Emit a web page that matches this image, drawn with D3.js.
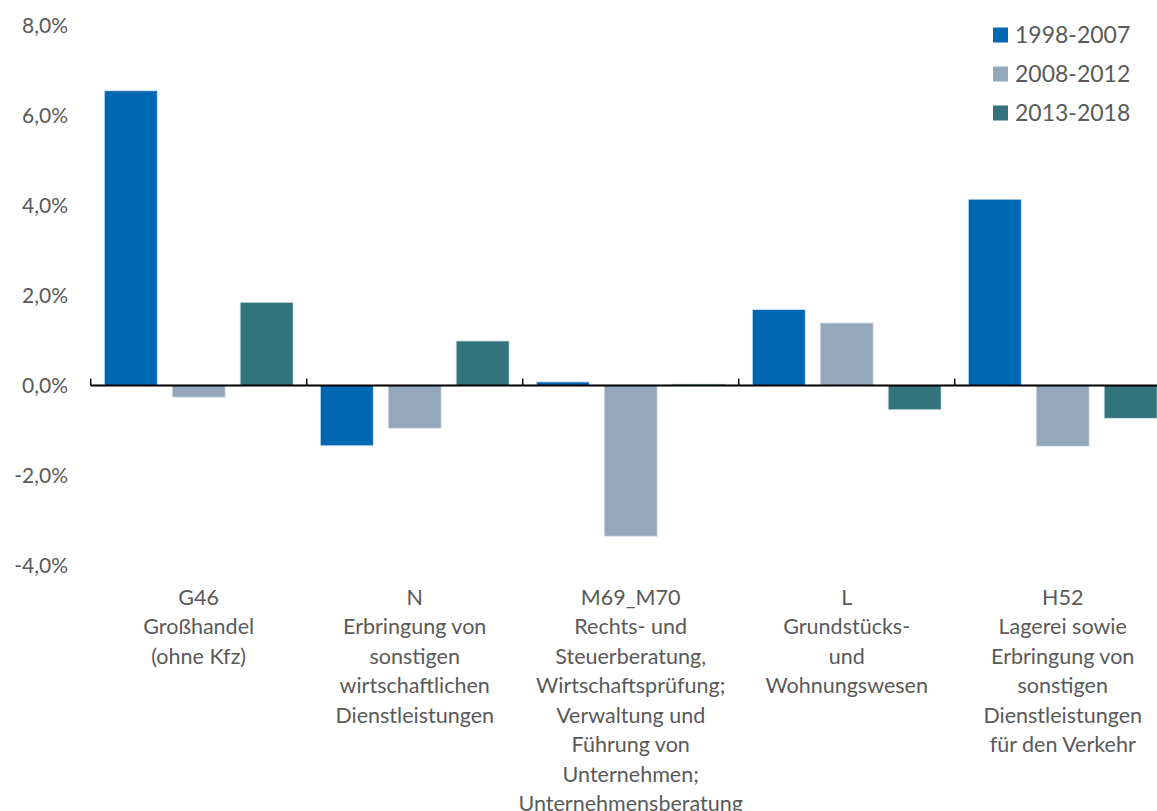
<!DOCTYPE html>
<html>
  <head>
    <meta charset="utf-8">
    <title>Wachstum nach Branchen</title>
    <script src="https://d3js.org/d3.v7.min.js"></script>
    <style>
      body { margin: 0; background: #fff; }
      text { font-family: Lato, "Open Sans", sans-serif; fill: #595959; }
    </style>
  </head>
  <body>
  <script type="text/javascript">
    // categories (each label is a list of lines)
    var categories = ['G46', 'N', 'M69_M70', 'L', 'H52'];
    var catLabels = [
      ['G46', 'Großhandel', '(ohne Kfz)'],
      ['N', 'Erbringung von', 'sonstigen', 'wirtschaftlichen', 'Dienstleistungen'],
      ['M69_M70', 'Rechts- und', 'Steuerberatung,', 'Wirtschaftsprüfung;', 'Verwaltung und', 'Führung von', 'Unternehmen;', 'Unternehmensberatung'],
      ['L', 'Grundstücks-', 'und', 'Wohnungswesen'],
      ['H52', 'Lagerei sowie', 'Erbringung von', 'sonstigen', 'Dienstleistungen', 'für den Verkehr']
    ];
    var seriesNames = ['1998-2007', '2008-2012', '2013-2018'];
    var seriesColors = ['#0068b3', '#94a8bc', '#33737b'];
    // values in %
    var v1998 = [6.55, -1.34, 0.08, 1.69, 4.14];
    var v2008 = [-0.26, -0.95, -3.35, 1.39, -1.35];
    var v2013 = [1.85, 0.99, 0.03, -0.54, -0.73];
    var yTicks = [-4, -2, 0, 2, 4, 6, 8];

    var seriesValues = [v1998, v2008, v2013];

    var width = 1157, height = 811;
    var svg = d3.select('body')
                .append('svg')
                .attr('width', width)
                .attr('height', height);

    var left = 90.7, step = 216;
    var x0 = d3.scaleBand()
               .domain(categories)
               .range([left, left + step * categories.length])
               .padding(0);
    var x1 = d3.scaleBand()
               .domain(seriesNames)
               .range([0, x0.bandwidth()])
               .paddingInner(0.22)
               .paddingOuter(0.2);
    var y = d3.scaleLinear().domain([-4, 8]).range([565.5, 25.5]);

    // y axis labels (no axis line)
    var fmt = function(d){ return d3.format('.1f')(d).replace('.', ',').replace('−', '-') + '%'; };
    svg.append('g')
       .selectAll('text')
       .data(yTicks)
       .enter()
       .append('text')
       .attr('x', 68)
       .attr('y', function(d){ return y(d); })
       .attr('dy', '0.35em')
       .attr('text-anchor', 'end')
       .style('font-size', '21px')
       .text(fmt);

    // bars
    var groups = svg.selectAll('g.cat')
       .data(categories)
       .enter()
       .append('g')
       .attr('class', 'cat')
       .attr('transform', function(d){ return 'translate(' + x0(d) + ',0)'; });

    groups.selectAll('rect')
       .data(function(d, i){
         return seriesNames.map(function(s, j){ return {s: s, j: j, v: seriesValues[j][i]}; });
       })
       .enter()
       .append('rect')
       .attr('x', function(d){ return x1(d.s); })
       .attr('y', function(d){ return y(Math.max(0, d.v)); })
       .attr('width', x1.bandwidth())
       .attr('height', function(d){ return Math.abs(y(d.v) - y(0)); })
       .attr('fill', function(d){ return seriesColors[d.j]; })
       .attr('stroke', '#dbe6f0')
       .attr('stroke-width', 0.8);

    // zero line with category separators
    svg.append('line')
       .attr('x1', left).attr('x2', width)
       .attr('y1', y(0)).attr('y2', y(0))
       .attr('stroke', '#000').attr('stroke-width', 2);
    svg.append('g')
       .selectAll('line')
       .data(d3.range(categories.length + 1))
       .enter()
       .append('line')
       .attr('x1', function(i){ return left + i * step; })
       .attr('x2', function(i){ return left + i * step; })
       .attr('y1', y(0) - 7).attr('y2', y(0))
       .attr('stroke', '#000').attr('stroke-width', 1.5);

    // category labels
    var lab = svg.append('g')
       .selectAll('text')
       .data(categories)
       .enter()
       .append('text')
       .attr('text-anchor', 'middle')
       .style('font-size', '21.5px');
    lab.selectAll('tspan')
       .data(function(d, i){ return catLabels[i].map(function(t){ return {t: t, c: d}; }); })
       .enter()
       .append('tspan')
       .attr('x', function(d){ return x0(d.c) + x0.bandwidth() / 2; })
       .attr('y', function(d, k){ return 597 + k * 29.5; })
       .attr('dy', '0.35em')
       .text(function(d){ return d.t; });

    // legend
    var leg = svg.append('g')
       .selectAll('g')
       .data(seriesNames)
       .enter()
       .append('g')
       .attr('transform', function(d, i){ return 'translate(993,' + (35 + i * 39) + ')'; });
    leg.append('rect')
       .attr('x', 0).attr('y', -7.5)
       .attr('width', 15).attr('height', 15)
       .attr('fill', function(d, i){ return seriesColors[i]; });
    leg.append('text')
       .attr('x', 22)
       .attr('dy', '0.35em')
       .style('font-size', '23px')
       .text(function(d){ return d; });
  </script>
  </body>
</html>
